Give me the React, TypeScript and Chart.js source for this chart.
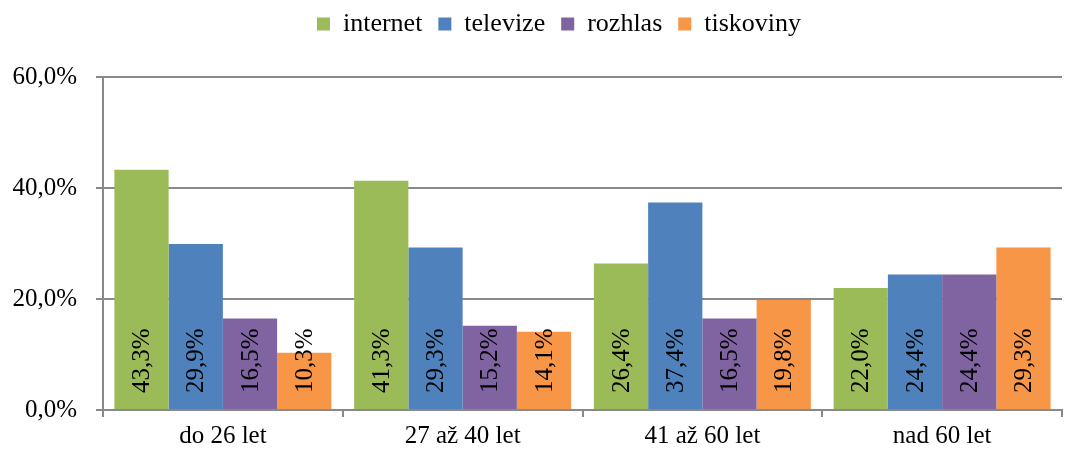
import React, { useEffect, useRef } from "react";
import { Chart, registerables } from "chart.js";

Chart.register(...registerables);

const categories = ["do 26 let", "27 až 40 let", "41 až 60 let", "nad 60 let"];
const seriesNames = ["internet", "televize", "rozhlas", "tiskoviny"];
const internet = [43.3, 41.3, 26.4, 22.0];
const televize = [29.9, 29.3, 37.4, 24.4];
const rozhlas = [16.5, 15.2, 16.5, 24.4];
const tiskoviny = [10.3, 14.1, 19.8, 29.3];
const colors = ["#9BBB59", "#4F81BD", "#8064A2", "#F79646"];
const yTicks = [0, 20, 40, 60];

const FONT = "'Liberation Serif', 'Times New Roman', serif";
const fmt = (v: number) => v.toFixed(1).replace(".", ",") + "%";

const legendMargin = {
  id: "legendMargin",
  beforeInit(chart: any) {
    const orig = chart.legend.fit;
    chart.legend.fit = function () {
      orig.bind(this)();
      this.height += 30;
    };
  },
  afterLayout(chart: any) {
    chart.legend.left += 28;
    chart.legend.right += 28;
  },
};

const barLabels = {
  id: "barLabels",
  afterDatasetsDraw(chart: any) {
    const ctx = chart.ctx;
    chart.data.datasets.forEach((ds: any, i: number) => {
      const meta = chart.getDatasetMeta(i);
      meta.data.forEach((bar: any, j: number) => {
        const v = ds.data[j];
        ctx.save();
        ctx.translate(bar.x, bar.base - 16);
        ctx.rotate(-Math.PI / 2);
        ctx.font = `25px ${FONT}`;
        ctx.fillStyle = "#000";
        ctx.textAlign = "left";
        ctx.textBaseline = "middle";
        ctx.fillText(fmt(v), 0, 1);
        ctx.restore();
      });
    });
  },
};

export default function App() {
  const ref = useRef<HTMLCanvasElement>(null);
  useEffect(() => {
    document.body.style.margin = "0";
    const series = [internet, televize, rozhlas, tiskoviny];
    const chart = new Chart(ref.current!, {
      type: "bar",
      data: {
        labels: categories,
        datasets: seriesNames.map((name, i) => ({
          label: name,
          data: series[i],
          backgroundColor: colors[i],
          borderWidth: 0,
          categoryPercentage: 0.905,
          barPercentage: 1.0,
        })),
      },
      options: {
        animation: false,
        responsive: false,
        maintainAspectRatio: false,
        layout: { padding: { top: -5, right: 13, left: 0, bottom: 0 } },
        plugins: {
          tooltip: { enabled: false },
          legend: {
            position: "top",
            labels: {
              boxWidth: 13,
              boxHeight: 13,
              padding: 16,
              color: "#000",
              font: { family: FONT, size: 26 },
            },
          },
        },
        scales: {
          x: {
            grid: {
              offset: true,
              drawOnChartArea: false,
              drawTicks: true,
              tickLength: 7,
              color: "#898989",
              lineWidth: 2,
            },
            border: { color: "#898989", width: 2 },
            ticks: { color: "#000", font: { family: FONT, size: 25 }, padding: 4 },
            afterFit(scale: any) {
              scale.height = 42;
            },
          },
          y: {
            min: 0,
            max: 60,
            afterBuildTicks(scale: any) {
              scale.ticks = yTicks.map((v) => ({ value: v }));
            },
            grid: {
              color: "#898989",
              lineWidth: 2,
              drawTicks: true,
              tickLength: 7,
            },
            border: { color: "#898989", width: 2 },
            ticks: {
              color: "#000",
              font: { family: FONT, size: 25 },
              padding: 19,
              callback: (v: any) => fmt(Number(v)),
            },
            afterFit(scale: any) {
              scale.width = 103;
            },
          },
        },
      },
      plugins: [legendMargin, barLabels],
    });
    return () => chart.destroy();
  }, []);
  return (
    <div style={{ width: 1075, height: 452 }}>
      <canvas ref={ref} width={1075} height={452} style={{ width: 1075, height: 452 }} />
    </div>
  );
}
